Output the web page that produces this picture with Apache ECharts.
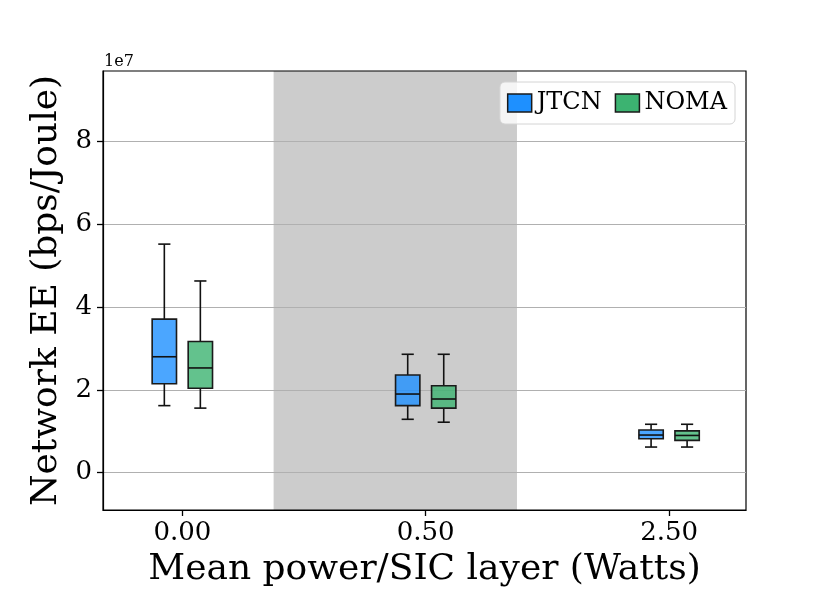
<!DOCTYPE html>
<html lang="en">
<head>
<meta charset="UTF-8"/>
<title>Network EE boxplot</title>
<script src="https://cdn.jsdelivr.net/npm/echarts@6/dist/echarts.min.js"></script>
<style>
  html, body { margin: 0; padding: 0; background: #fff; }
  #main { width: 830px; height: 593px; }
</style>
</head>
<body>
<div id="main"></div>
<script>
// categories on the x axis (mean power per SIC layer)
var categories = ['0.00', '0.50', '2.50'];
// box stats in units of 1e7: [min, q1, median, q3, max]
var jtcnStats = [
  [1.62, 2.15, 2.80, 3.71, 5.52],
  [1.29, 1.62, 1.90, 2.36, 2.86],
  [0.62, 0.82, 0.91, 1.03, 1.17]
];
var nomaStats = [
  [1.56, 2.04, 2.53, 3.17, 4.63],
  [1.22, 1.56, 1.78, 2.10, 2.86],
  [0.62, 0.78, 0.90, 1.01, 1.17]
];
var yTicks = [0, 2, 4, 6, 8];
// shaded span on the x axis
var bandRange = [0.375, 1.375];

var FONT = 'DejaVu Serif';
var boxW = 0.1;
var hueOffset = 0.074;

function toRows(stats) {
  return stats.map(function (s, i) { return [i].concat(s); });
}

function boxRenderer(offset, fill) {
  return function (params, api) {
    var x = api.value(0) + offset;
    var pMin = api.coord([x, api.value(1)]);
    var pQ1 = api.coord([x, api.value(2)]);
    var pMed = api.coord([x, api.value(3)]);
    var pQ3 = api.coord([x, api.value(4)]);
    var pMax = api.coord([x, api.value(5)]);
    var w = api.size([boxW, 0])[0];
    var cap = w / 2;
    var cx = pMin[0];
    var line = { stroke: '#111', lineWidth: 1.6 };
    return {
      type: 'group',
      children: [
        { type: 'line', shape: { x1: cx, y1: pQ3[1], x2: cx, y2: pMax[1] }, style: line },
        { type: 'line', shape: { x1: cx, y1: pQ1[1], x2: cx, y2: pMin[1] }, style: line },
        { type: 'line', shape: { x1: cx - cap / 2, y1: pMax[1], x2: cx + cap / 2, y2: pMax[1] }, style: line },
        { type: 'line', shape: { x1: cx - cap / 2, y1: pMin[1], x2: cx + cap / 2, y2: pMin[1] }, style: line },
        { type: 'rect', shape: { x: cx - w / 2, y: pQ3[1], width: w, height: pQ1[1] - pQ3[1] },
          style: { fill: fill, stroke: '#1a1a1a', lineWidth: 1.6 } },
        { type: 'line', shape: { x1: cx - w / 2, y1: pMed[1], x2: cx + w / 2, y2: pMed[1] }, style: line }
      ]
    };
  };
}

var myChart = echarts.init(document.getElementById('main'));

var option = {
  animation: false,
  backgroundColor: '#fff',
  grid: { left: 103, right: 84, top: 71, bottom: 77, show: true, borderColor: '#000', borderWidth: 1.2 },
  graphic: [{
    type: 'text', left: 104, top: 54,
    style: { text: '1e7', font: '16px "DejaVu Serif"', fill: '#000' }
  }],
  legend: {
    right: 95, top: 82,
    orient: 'horizontal',
    itemWidth: 24, itemHeight: 18, itemGap: 13,
    padding: [9, 8, 9, 7],
    backgroundColor: 'rgba(255,255,255,0.8)',
    borderColor: '#d4d4d4', borderWidth: 1, borderRadius: 5,
    textStyle: { fontFamily: FONT, fontSize: 24, color: '#000' },
    data: [
      { name: 'JTCN', icon: 'rect', itemStyle: { color: '#1E90FF', borderColor: '#1a1a1a', borderWidth: 1.5 } },
      { name: 'NOMA', icon: 'rect', itemStyle: { color: '#3CB371', borderColor: '#1a1a1a', borderWidth: 1.5 } }
    ]
  },
  xAxis: {
    type: 'value', min: -0.326, max: 2.316,
    name: 'Mean power/SIC layer (Watts)', nameLocation: 'middle', nameGap: 42,
    nameTextStyle: { fontFamily: FONT, fontSize: 36, color: '#000' },
    axisLine: { show: true, onZero: false, lineStyle: { color: '#000', width: 1.2 } },
    splitLine: { show: false },
    axisTick: { show: true, customValues: [0, 1, 2], length: 6, lineStyle: { color: '#000', width: 1.3 } },
    axisLabel: {
      customValues: [0, 1, 2], margin: 10,
      fontFamily: FONT, fontSize: 26, color: '#000',
      formatter: function (v) { return categories[Math.round(v)]; }
    }
  },
  yAxis: {
    type: 'value', min: -0.9, max: 9.7,
    name: 'Network EE (bps/Joule)', nameLocation: 'middle', nameGap: 31,
    nameTextStyle: { fontFamily: FONT, fontSize: 36, color: '#000' },
    axisLine: { show: true, onZero: false, lineStyle: { color: '#000', width: 1.2 } },
    axisTick: { show: true, customValues: yTicks, length: 6, lineStyle: { color: '#000', width: 1.3 } },
    axisLabel: { customValues: yTicks, margin: 11, fontFamily: FONT, fontSize: 26, color: '#000' },
    splitLine: { show: true, lineStyle: { color: '#b0b0b0', width: 1.2 } }
  },
  series: [
    {
      type: 'custom', name: 'band', z: -1, silent: true,
      data: [bandRange],
      renderItem: function (params, api) {
        var cs = params.coordSys;
        var a = api.coord([api.value(0), 0]);
        var b = api.coord([api.value(1), 0]);
        return { type: 'rect', shape: { x: a[0], y: cs.y, width: b[0] - a[0], height: cs.height },
                 style: { fill: '#cccccc' } };
      }
    },
    {
      type: 'custom', name: 'JTCN', z: 3,
      itemStyle: { color: '#1E90FF' },
      encode: { x: 0, y: [1, 2, 3, 4, 5] },
      data: toRows(jtcnStats),
      renderItem: boxRenderer(-hueOffset, 'rgba(30,144,255,0.8)')
    },
    {
      type: 'custom', name: 'NOMA', z: 3,
      itemStyle: { color: '#3CB371' },
      encode: { x: 0, y: [1, 2, 3, 4, 5] },
      data: toRows(nomaStats),
      renderItem: boxRenderer(hueOffset, 'rgba(60,179,113,0.8)')
    }
  ]
};

myChart.setOption(option);
</script>
</body>
</html>
